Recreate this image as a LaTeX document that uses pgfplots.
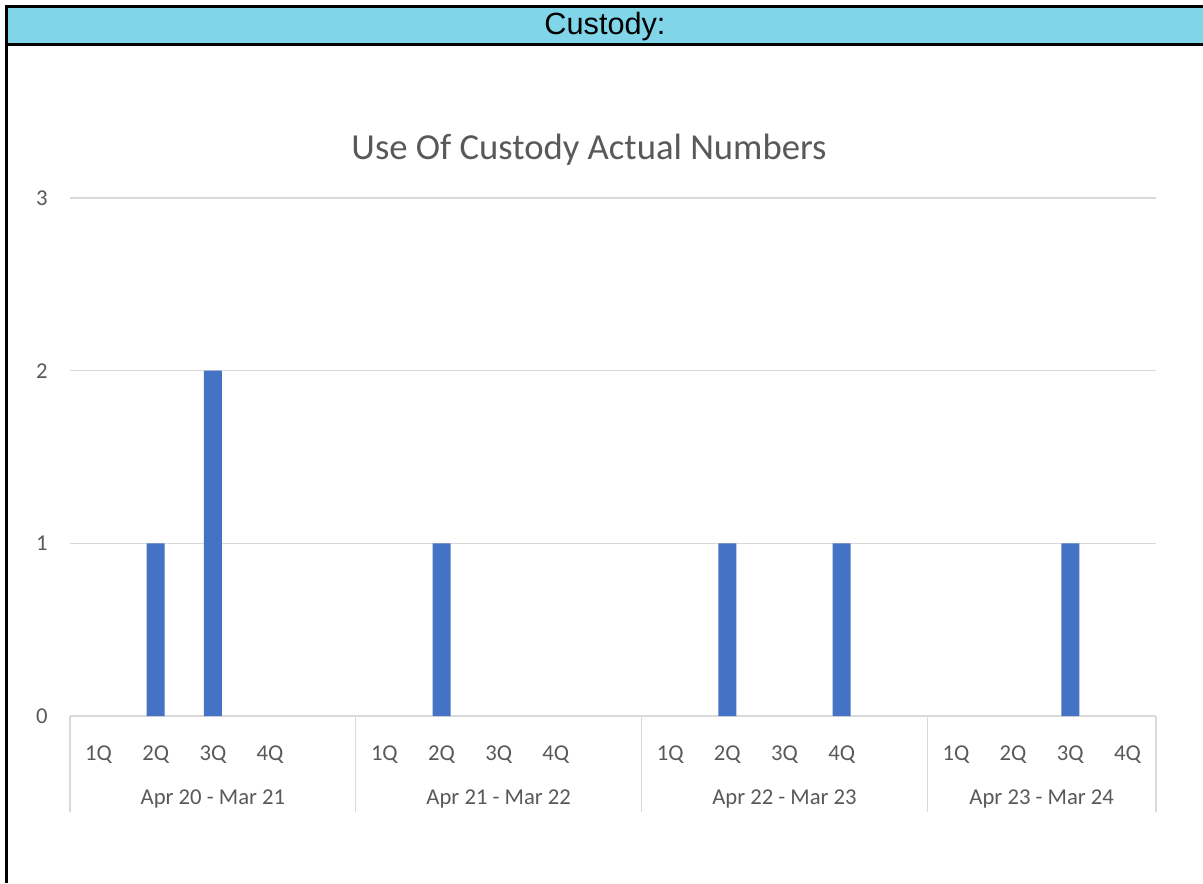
\documentclass[border=0pt]{standalone}
\usepackage{fontspec}
\setmainfont{Carlito}
\newfontfamily\arial{Liberation Sans}
\usepackage{pgfplots}
\pgfplotsset{compat=1.18}
\definecolor{barblue}{HTML}{4472C4}
\definecolor{gridgray}{HTML}{D9D9D9}
\definecolor{textgray}{HTML}{595959}
\definecolor{headcyan}{HTML}{80D6E8}
\begin{document}
\begin{tikzpicture}[x=0.75pt,y=0.75pt]
\useasboundingbox (0,0) rectangle (1203,883);
\fill[white] (0,0) rectangle (1203,883);
\fill[headcyan] (6,877) rectangle (1203,838);
\draw[line width=1.6pt] (1203,876.5) -- (6.5,876.5) -- (6.5,0);
\draw[line width=1.6pt] (6.5,838.5) -- (1203,838.5);
\node[font=\arial\fontsize{23}{27}\selectfont, text=black] at (605,856) {Custody:};
\node[font=\fontsize{27.5}{32}\selectfont, text=textgray] at (589,733) {Use Of Custody Actual Numbers};
\coordinate (P) at (70,167);
\begin{axis}[
  at={(P)}, anchor=south west,
  scale only axis, width=814.5pt, height=388.5pt,
  clip=false,
  xmin=-0.5, xmax=18.5, ymin=0, ymax=3,
  ybar, bar width=13.5pt,
  axis x line*=bottom, axis y line*=left,
  x axis line style={draw=gridgray, line width=0.8pt, -},
  y axis line style={draw=none},
  ytick={0,1,2,3},
  ytick style={draw=none},
  ymajorgrids, grid style={draw=gridgray, line width=0.8pt},
  xtick={0,1,2,3,5,6,7,8,10,11,12,13,15,16,17,18},
  xticklabels={1Q,2Q,3Q,4Q,1Q,2Q,3Q,4Q,1Q,2Q,3Q,4Q,1Q,2Q,3Q,4Q},
  xtick style={draw=none},
  xticklabel style={anchor=base, yshift=-29pt, font=\fontsize{17}{20}\selectfont, text=textgray},
  yticklabel style={anchor=east, inner sep=0pt, xshift=-16.5pt, font=\fontsize{17}{20}\selectfont, text=textgray},
  /pgf/number format/assume math mode=true,
]
\addplot[fill=barblue, draw=none] coordinates {
(1,1) (2,2)
(6,1)
(11,1) (13,1)
(17,1)};
\pgfplotsinvokeforeach{-0.5,4.5,9.5,14.5,18.5}{
  \draw[gridgray, line width=0.8pt] (axis cs:#1,0) -- ++(0pt,-72pt);
}
\node[anchor=base, font=\fontsize{17}{20}\selectfont, text=textgray, yshift=-66pt] at (axis cs:2,0) {Apr 20 - Mar 21};
\node[anchor=base, font=\fontsize{17}{20}\selectfont, text=textgray, yshift=-66pt] at (axis cs:7,0) {Apr 21 - Mar 22};
\node[anchor=base, font=\fontsize{17}{20}\selectfont, text=textgray, yshift=-66pt] at (axis cs:12,0) {Apr 22 - Mar 23};
\node[anchor=base, font=\fontsize{17}{20}\selectfont, text=textgray, yshift=-66pt] at (axis cs:16.5,0) {Apr 23 - Mar 24};
\end{axis}
\end{tikzpicture}
\end{document}
